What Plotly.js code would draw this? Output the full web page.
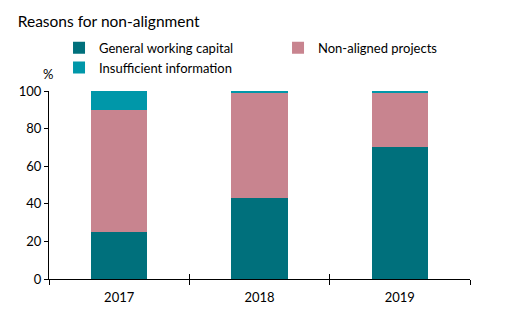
<!DOCTYPE html>
<html>
<head>
<meta charset="utf-8">
<script src="https://cdn.plot.ly/plotly-3.0.1.min.js"></script>
<style>html,body{margin:0;padding:0;background:#fff;}#chart{width:507px;height:336px;}</style>
</head>
<body>
<div id="chart"></div>
<script>
const years = ['2017', '2018', '2019'];
const generalWorkingCapital = [25, 43, 70];
const nonAlignedProjects = [65, 56, 29];
const insufficientInformation = [10, 1, 1];
const yTicks = [0, 20, 40, 60, 80, 100];

const font = 'Lato, Open Sans, sans-serif';
const traces = [
  {type: 'bar', name: 'General working capital', x: years, y: generalWorkingCapital, marker: {color: '#00707C'}, hoverinfo: 'skip', legend: 'legend'},
  {type: 'bar', name: 'Non-aligned projects', x: years, y: nonAlignedProjects, marker: {color: '#C8848F'}, hoverinfo: 'skip', legend: 'legend2'},
  {type: 'bar', name: 'Insufficient information', x: years, y: insufficientInformation, marker: {color: '#0097A9'}, hoverinfo: 'skip', legend: 'legend'},
  {type: 'scatter', mode: 'markers', x: years, y: [null, null, null], xaxis: 'x2', yaxis: 'y', showlegend: false, hoverinfo: 'skip', marker: {opacity: 0}}
];

const legendStyle = {orientation: 'v', yanchor: 'top', y: 1.31, xanchor: 'left', traceorder: 'normal', itemwidth: 30, tracegroupgap: 0, bgcolor: 'rgba(0,0,0,0)', font: {family: font, size: 13, color: '#000'}};

const layout = {
  width: 507, height: 336,
  margin: {l: 49, r: 37, t: 91, b: 57},
  paper_bgcolor: '#fff', plot_bgcolor: '#fff',
  barmode: 'stack',
  bargap: 0.6,
  font: {family: font, size: 13, color: '#000'},
  title: {text: 'Reasons for non-alignment', x: 0.035, xanchor: 'left', y: 0.935, yanchor: 'middle', font: {family: font, size: 15.5, color: '#000'}},
  showlegend: true,
  legend: Object.assign({}, legendStyle, {x: 0.0238}),
  legend2: Object.assign({}, legendStyle, {x: 0.544}),
  xaxis: {
    type: 'category', range: [-0.5, 2.5], tickson: 'boundaries', ticks: 'outside', ticklen: 5, tickwidth: 1, tickcolor: '#000',
    showline: true, linecolor: '#000', linewidth: 1, showgrid: false, zeroline: false, ticklabelstandoff: 6,
    tickfont: {family: font, size: 13, color: '#000'}, fixedrange: true
  },
  xaxis2: {
    type: 'category', overlaying: 'x', range: [-0.5, 2.5], tickson: 'boundaries', ticks: 'inside', ticklen: 5, tickwidth: 1, tickcolor: '#000',
    showticklabels: false, showline: false, showgrid: false, zeroline: false, side: 'bottom', anchor: 'y'
  },
  yaxis: {
    range: [0, 100], tickvals: yTicks, ticktext: yTicks.map(String), ticks: 'outside', ticklen: 4, tickwidth: 1, tickcolor: '#000',
    showline: true, linecolor: '#000', linewidth: 1, showgrid: false, zeroline: false,
    tickfont: {family: font, size: 13, color: '#000'}, fixedrange: true
  },
  annotations: [
    {text: '%', xref: 'paper', yref: 'paper', x: -0.002, y: 1.09, xanchor: 'center', yanchor: 'middle', showarrow: false, font: {family: font, size: 13, color: '#000'}}
  ]
};

Plotly.newPlot('chart', traces, layout, {displayModeBar: false, staticPlot: true});
</script>
</body>
</html>
